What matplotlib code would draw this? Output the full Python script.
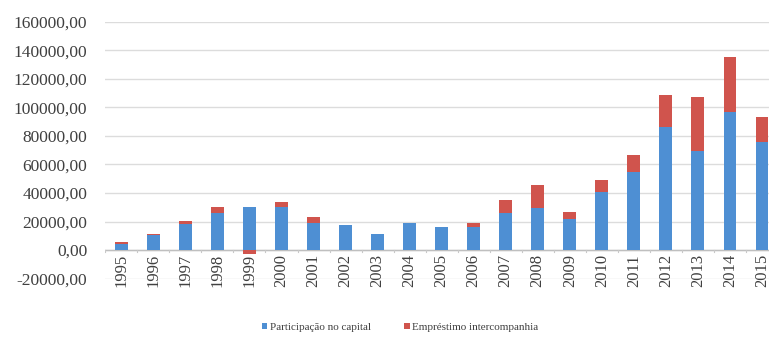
import numpy as np
import matplotlib.pyplot as plt
from matplotlib.ticker import FuncFormatter, FixedLocator

# Investimento direto: participação no capital e empréstimos intercompanhia
anos = [str(a) for a in range(1995, 2016)]
participacao = [4500, 10500, 18500, 26000, 30000, 30500, 19000, 17500, 11000, 18700, 16000,
                16400, 26200, 29300, 21500, 40500, 55000, 86500, 69700, 97000, 76000]
emprestimo = [900, 1000, 2000, 4000, -2500, 3500, 4000, 0, 0, 0, 0,
              2800, 8800, 16300, 5500, 8500, 11700, 22300, 37900, 38600, 17000]

cor_azul = "#4E8FD3"
cor_vermelho = "#D0544D"

plt.rcParams['font.family'] = ['Liberation Serif', 'DejaVu Serif']

fig = plt.figure(figsize=(7.69, 3.41), dpi=100)
ax = fig.add_axes([0.137, 0.183, 0.863, 0.753])

x = np.arange(len(anos))
part = np.array(participacao)
emp = np.array(emprestimo)
base_emp = np.where(emp > 0, part, 0)

ax.bar(x, part, 0.4, color=cor_azul, label="Participação no capital", zorder=3)
ax.bar(x, emp, 0.4, bottom=base_emp, color=cor_vermelho, label="Empréstimo intercompanhia", zorder=3)

ax.set_xlim(-0.5, 20.22)
ax.set_ylim(-20000, 160000)
ax.set_yticks(np.arange(-20000, 160001, 20000))
ax.yaxis.set_major_formatter(FuncFormatter(lambda v, p: f"{v:.2f}".replace(".", ",")))
ax.grid(axis="y", color="#dcdcdc", linewidth=1, zorder=0)
ax.axhline(0, color="#bfbfbf", linewidth=1, zorder=2)

for s in ax.spines.values():
    s.set_visible(False)
ax.tick_params(axis="y", length=0, labelsize=12.5, colors="#404040", pad=13)

# rótulos dos anos logo abaixo da linha do zero
ax.set_xticks(x)
ax.set_xticklabels(anos, rotation=90, fontsize=12, color="#404040")
ax.tick_params(axis="x", length=0, pad=0)
for lbl in ax.get_xticklabels():
    lbl.set_verticalalignment("top")
    lbl.set_y(0.095)
for xm in np.arange(-0.5, 20.6, 1):
    ax.plot([xm, xm], [0, -1500], color="#c8c8c8", linewidth=0.8, zorder=2)

ax.legend(loc="center", bbox_to_anchor=(0.444, -0.19), ncol=2, frameon=False,
          fontsize=8, handlelength=0.5, handleheight=0.5, handletextpad=0.2,
          columnspacing=3.0, labelcolor="#404040")

fig.savefig("out.png", dpi=100)
